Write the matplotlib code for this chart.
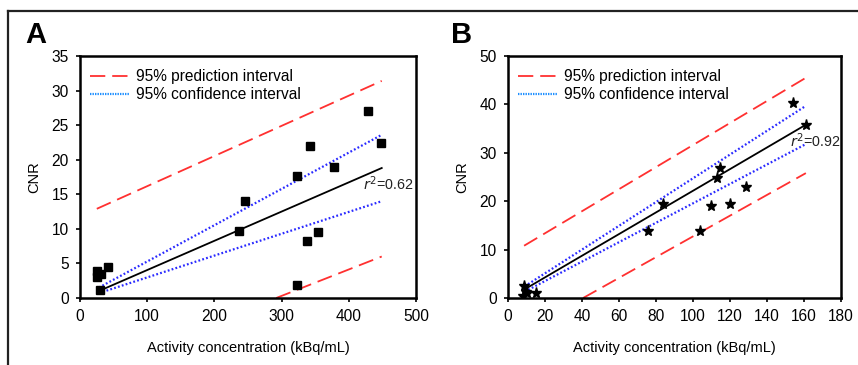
import matplotlib
matplotlib.use("Agg")
import matplotlib.pyplot as plt
from matplotlib.lines import Line2D

plt.rcParams['font.family'] = ['Liberation Sans', 'DejaVu Sans']
plt.rcParams['lines.scale_dashes'] = False

# ---- Panel A data ----
a_x = [25, 25, 31, 30, 42, 236, 246, 323, 323, 338, 342, 354, 378, 428, 448]
a_y = [3.9, 3.1, 3.4, 1.1, 4.5, 9.7, 14.0, 17.7, 1.9, 8.2, 22.0, 9.5, 19.0, 27.1, 22.4]
a_fit_x = [28, 449]
a_fit_y = [1.0, 18.8]
a_pi_up_x = [25, 449]
a_pi_up_y = [12.9, 31.4]
a_pi_lo_x = [292, 449]
a_pi_lo_y = [0.0, 6.0]
a_ci_up_x = [28, 449]
a_ci_up_y = [1.5, 23.6]
a_ci_lo_x = [28, 449]
a_ci_lo_y = [0.7, 14.0]
a_r2 = "0.62"

# ---- Panel B data ----
b_x = [8.7, 9.5, 10.3, 8.2, 15, 75.8, 83.6, 103.8, 109.8, 113.2, 114.4, 120, 128.7, 153.8, 161]
b_y = [2.4, 1.3, 1.0, 0.5, 1.0, 13.9, 19.5, 13.9, 19.1, 24.8, 26.8, 19.5, 23.0, 40.2, 35.8]
b_fit_x = [9, 161]
b_fit_y = [1.8, 35.8]
b_pi_up_x = [8.7, 161]
b_pi_up_y = [10.8, 45.5]
b_pi_lo_x = [40.6, 161]
b_pi_lo_y = [0.0, 25.8]
b_ci_up_x = [9, 161]
b_ci_up_y = [2.4, 39.7]
b_ci_lo_x = [9, 161]
b_ci_lo_y = [1.3, 31.8]
b_r2 = "0.92"

legend_labels = ["95% prediction interval", "95% confidence interval"]
RED = '#ff3030'
BLUE = '#2a2aff'
LEG_BLUE = '#1e8fff'
DASH = (11, 5)
DOT = (1.3, 1.6)

fig = plt.figure(figsize=(8.58, 3.65), dpi=100)

# outer frame (left and top)
fig.add_artist(Line2D([8/858, 8/858], [0, 1 - 11/365], color='#222222', lw=1.6))
fig.add_artist(Line2D([8/858, 1], [1 - 11/365, 1 - 11/365], color='#222222', lw=1.6))

def panel(rect, xs, ys, marker, ms, fit, piu, pil, ciu, cil, r2, r2pos,
          xlim, ylim, xticks, yticks, letter, letter_x):
    ax = fig.add_axes(rect)
    ax.plot(piu[0], piu[1], color=RED, lw=1.3, dashes=DASH)
    ax.plot(pil[0], pil[1], color=RED, lw=1.3, dashes=DASH)
    ax.plot(ciu[0], ciu[1], color=BLUE, lw=1.6, dashes=DOT)
    ax.plot(cil[0], cil[1], color=BLUE, lw=1.6, dashes=DOT)
    ax.plot(fit[0], fit[1], color='black', lw=1.3)
    ax.plot(xs, ys, linestyle='none', marker=marker, ms=ms, color='black')
    ax.set_xlim(*xlim)
    ax.set_ylim(*ylim)
    ax.set_xticks(xticks)
    ax.set_yticks(yticks)
    for s in ax.spines.values():
        s.set_linewidth(1.8)
    ax.tick_params(direction='out', length=3, width=1.2, labelsize=11.2, pad=5)
    ax.set_xlabel("Activity concentration (kBq/mL)", fontsize=10.5, labelpad=12)
    ax.set_ylabel("CNR", fontsize=10.5, labelpad=7.5)
    ax.text(r2pos[0], r2pos[1], r"$r^2$" + "=" + r2, fontsize=10.3, va='center', ha='left',
            math_fontfamily='dejavusans', color='#222222')
    handles = [Line2D([], [], color=RED, lw=1.3, dashes=DASH),
               Line2D([], [], color=LEG_BLUE, lw=1.6, dashes=(1.0, 0.8))]
    ax.legend(handles, legend_labels, loc='upper left', frameon=False, fontsize=11.2,
              handlelength=2.5, handletextpad=0.45, borderaxespad=0.45, labelspacing=0.2,
              bbox_to_anchor=(-0.01, 1.0))
    fig.text(letter_x, 1 - 35/365, letter, fontsize=21, fontweight='bold', va='center', ha='left')
    return ax

panel([80/858, 67/365, 336/858, 242/365], a_x, a_y, 's', 5.5,
      (a_fit_x, a_fit_y), (a_pi_up_x, a_pi_up_y), (a_pi_lo_x, a_pi_lo_y),
      (a_ci_up_x, a_ci_up_y), (a_ci_lo_x, a_ci_lo_y), a_r2, (421, 16.5),
      (0, 500), (0, 35), range(0, 501, 100), range(0, 36, 5), "A", 25/858)

panel([508/858, 67/365, 333/858, 242/365], b_x, b_y, '*', 8,
      (b_fit_x, b_fit_y), (b_pi_up_x, b_pi_up_y), (b_pi_lo_x, b_pi_lo_y),
      (b_ci_up_x, b_ci_up_y), (b_ci_lo_x, b_ci_lo_y), b_r2, (152.5, 32.5),
      (0, 180), (0, 50), range(0, 181, 20), range(0, 51, 10), "B", 451/858)

fig.savefig("out.png", dpi=100)
